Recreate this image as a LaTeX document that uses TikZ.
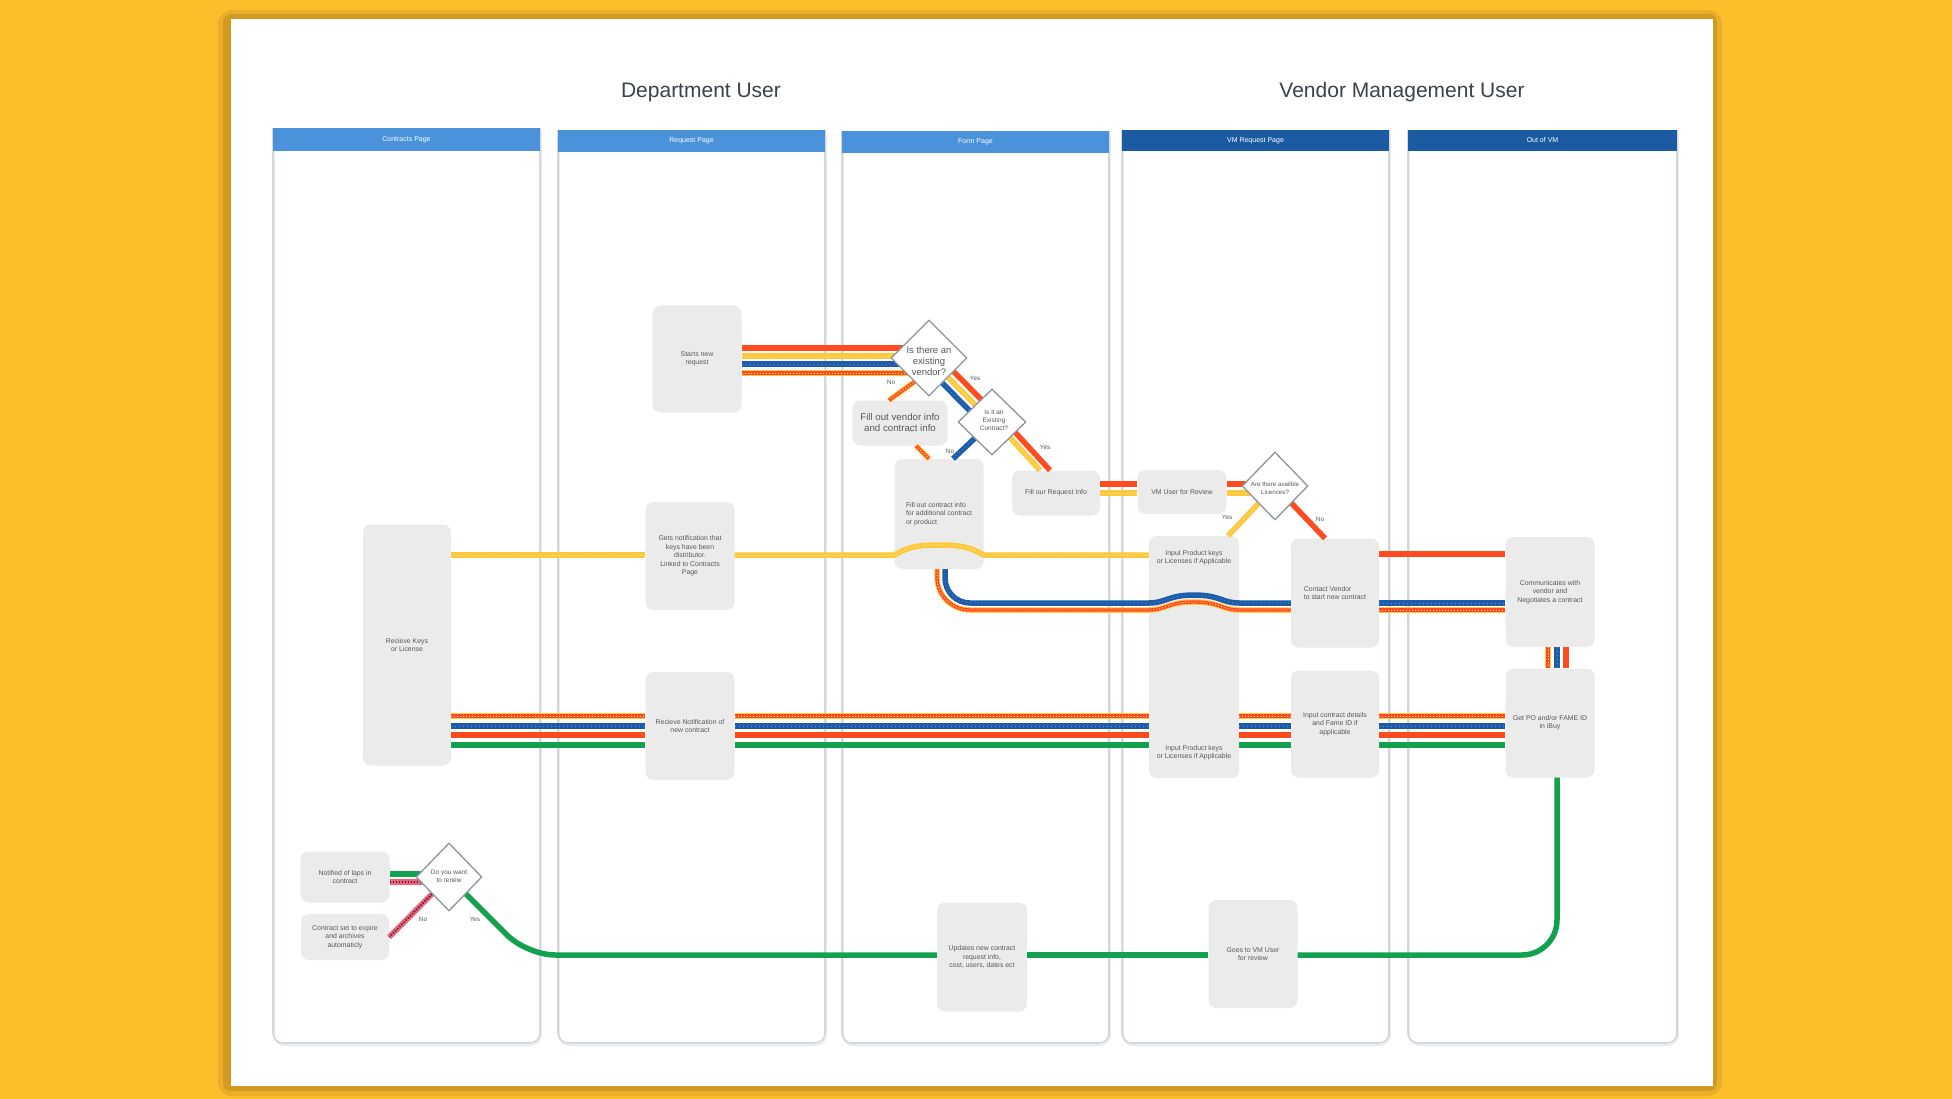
\documentclass[tikz,border=0pt]{standalone}
\usepackage{fontspec}
\setmainfont{Liberation Sans}
\usetikzlibrary{shapes.geometric,calc}
\pgfdeclarelayer{bg}
\pgfdeclarelayer{lines}
\pgfdeclarelayer{top}
\pgfsetlayers{bg,main,lines,top}
\definecolor{bgY}{HTML}{FDBE2C}
\definecolor{shdA}{HTML}{EAAE28}
\definecolor{shdB}{HTML}{C8951F}
\definecolor{laneB}{HTML}{D4D8DC}
\definecolor{hdL}{HTML}{4A92DA}
\definecolor{hdD}{HTML}{1B5BA2}
\definecolor{boxG}{HTML}{EBEBEB}
\definecolor{txtG}{HTML}{55595E}
\definecolor{titC}{HTML}{3A424B}
\definecolor{diaB}{HTML}{8C959D}
\definecolor{cRed}{HTML}{FF4B1F}
\definecolor{cYel}{HTML}{FDC93A}
\definecolor{cYelL}{HTML}{FFE9A8}
\definecolor{cBlu}{HTML}{1D5CAB}
\definecolor{cBluL}{HTML}{5E8FD2}
\definecolor{cGrn}{HTML}{14A14F}
\definecolor{cPnk}{HTML}{F25F7C}
\begin{document}
\begin{tikzpicture}[x=1pt,y=-1pt,
  box/.style={rectangle, rounded corners=8pt, fill=boxG, inner sep=2pt, align=center, text=txtG, font=\fontsize{6.9}{8.4}\selectfont},
  btxt/.style={align=center, text=txtG, inner sep=0pt, font=\fontsize{6.9}{8.4}\selectfont},
  sz/.style 2 args={minimum width=#1pt, minimum height=#2pt},
  dia/.style={diamond, draw=diaB, line width=1.3pt, fill=white, inner sep=0pt},
  dtxt/.style={align=center, text=txtG, inner sep=0pt, font=\fontsize{6.5}{8}\selectfont},
  lbl/.style={text=txtG, inner sep=0pt, font=\fontsize{6.3}{7}\selectfont},
  hdr/.style={text=white, inner sep=0pt, font=\fontsize{7}{8}\selectfont},
  title/.style={text=titC, inner sep=0pt, font=\fontsize{21}{24}\selectfont},
  lnbase/.style={line width=5.5pt, line cap=butt, line join=round},
  redL/.style={lnbase, draw=cRed},
  yelL/.style={lnbase, draw=cYel, postaction={draw=cYelL, line width=1pt, dash pattern=on 1pt off 2pt}},
  bluL/.style={lnbase, draw=cBlu, postaction={draw=cBluL, line width=0.7pt, dash pattern=on 1pt off 3pt}},
  grnL/.style={lnbase, draw=cGrn},
  oyL/.style={lnbase, draw=cYel, postaction={draw=cRed, line width=3.4pt}, postaction={draw=cYelL, line width=0.9pt, dash pattern=on 1pt off 2pt}},
  pnkL/.style={lnbase, draw=cPnk, postaction={draw=black!80, line width=1.6pt, dash pattern=on 1.5pt off 1.5pt}}
]
\useasboundingbox (0,0) rectangle (1952,1099);
\begin{pgfonlayer}{bg}
\fill[bgY] (0,0) rectangle (1952,1099);
\fill[shdA, rounded corners=14pt] (218,10) rectangle (1722,1096);
\fill[shdB!75!shdA, rounded corners=8pt] (223,14) rectangle (1717,1091);
\fill[white] (231,19) rectangle (1713,1086);
\foreach \xa/\xb/\yt/\yh/\hcol/\htxt [count=\i] in {273/540/128/151/hdL/Contracts Page, 558/825/130/152/hdL/Request Page, 842/1109/131/153/hdL/Form Page, 1122/1389/130/151/hdD/VM Request Page, 1408/1677/130/151/hdD/Out of VM}{
  \draw[laneB!55, line width=1.5pt, rounded corners=10pt] (\xa+1,\yt+4) -- (\xa+1,1045) -- (\xb+1,1045) -- (\xb+1,\yt+4);
  \draw[laneB, line width=1.6pt, rounded corners=10pt] (\xa,\yt) -- (\xa,1043) -- (\xb,1043) -- (\xb,\yt);
  \fill[\hcol] (\xa,\yt) rectangle (\xb,\yh);
  \node[hdr] (hd\i) at ({(\xa+\xb)/2},{(\yt+\yh)/2}) {\htxt};
}
\node[title] (tDept) at (701,92) {Department User};
\node[title] (tVM) at (1402,92) {Vendor Management User};
\end{pgfonlayer}

% boxes
\node[box, sz={89}{107}] (sn) at (697,359) {Starts new\\request};
\node[box, sz={95}{45}, font=\fontsize{9.7}{11}\selectfont] (fv) at (900,423) {Fill out vendor info\\and contract info};
\node[box, sz={89}{110}, align=left] (fc) at (939,514) {Fill out contract info\\for additional contract\\or product};
\node[box, sz={88}{45}] (fr) at (1056,493) {Fill our Request Info};
\node[box, sz={89}{44}] (vm) at (1182,492) {VM User for Review};
\node[box, sz={90}{242}] (ipk) at (1194,657) {};
\node[btxt] (ipkT) at (1194,558) {Input Product keys\\or Licenses if Applicable};
\node[btxt] (ipkB) at (1194,753) {Input Product keys\\or Licenses if Applicable};
\node[box, sz={88}{109}, align=left] (cv) at (1335,593) {Contact Vendor\\to start new contract};
\node[box, sz={88}{107}] (ic) at (1335,724) {Input contract details\\and Fame ID if\\applicable};
\node[box, sz={89}{110}] (cm) at (1550,592) {Communicates with\\vendor and\\Negotiates a contract};
\node[box, sz={89}{109}] (gp) at (1550,723) {Get PO and/or FAME ID\\in iBuy};
\node[box, sz={88}{241}] (rk) at (407,645) {Recieve Keys\\or License};
\node[box, sz={89}{108}] (gn) at (690,556) {Gets notification that\\keys have been\\distributor.\\Linked to Contracts\\Page};
\node[box, sz={89}{108}] (rn) at (690,726) {Recieve Notification of\\new contract};
\node[box, sz={90}{109}] (up) at (982,957) {Updates new contract\\request info,\\cost, users, dates ect};
\node[box, sz={89}{108}] (gv) at (1253,954) {Goes to VM User\\for review};
\node[box, sz={89}{51}] (nl) at (345,877) {Notified of laps in\\contract};
\node[box, sz={88}{46}] (cs) at (345,937) {Contract set to expire\\and archives\\automaticly};

\begin{pgfonlayer}{top}
\node[dia, minimum width=76pt, minimum height=76pt] (d1) at (929,358) {};
\node[dtxt, font=\fontsize{9.5}{11}\selectfont] (d1t) at (929,361) {Is there an\\existing\\vendor?};
\node[dia, minimum width=68pt, minimum height=66pt] (d2) at (992,422) {};
\node[dtxt] (d2t) at (994,420) {Is it an\\Existing\\Contract?};
\node[dia, minimum width=66pt, minimum height=68pt] (d3) at (1275,486) {};
\node[dtxt, font=\fontsize{6.2}{8}\selectfont] (d3t) at (1275,488) {Are there availble\\Licences?};
\node[dia, minimum width=66pt, minimum height=68pt] (d4) at (449,877) {};
\node[dtxt] (d4t) at (449,876) {Do you want\\to renew};
\node[lbl] (l1) at (891,382) {No};
\node[lbl] (l2) at (975,378) {Yes};
\node[lbl] (l3) at (950,451) {No};
\node[lbl] (l4) at (1045,447) {Yes};
\node[lbl] (l5) at (1227,517) {Yes};
\node[lbl] (l6) at (1320,519) {No};
\node[lbl] (l7) at (423,919) {No};
\node[lbl] (l8) at (475,919) {Yes};
\end{pgfonlayer}

\begin{pgfonlayer}{lines}
% start -> vendor question
\draw[redL] (sn.east |- 0,348) -- (d1.center |- 0,348);
\draw[yelL] (sn.east |- 0,356) -- (d1.center |- 0,356);
\draw[bluL] (sn.east |- 0,364) -- (d1.center |- 0,364);
\draw[oyL] (sn.east |- 0,373) -- (d1.center |- 0,373);
% no branch
\draw[oyL] ($(d1.center)+(-1,14)$) -- ($(fv.north)+(-11,0)$);
\draw[oyL] ($(fv.south)+(16,0)$) -- ($(fc.north)+(-10,0)$);
% yes branch
\draw[redL] ($(d1.center)+(5.7,-5.7)$) -- ($(d2.center)+(5.7,-5.7)$);
\draw[yelL] (d1.center) -- (d2.center);
\draw[bluL] ($(d1.center)+(-5.7,5.7)$) -- ($(d2.center)+(-5.7,5.7)$);
\draw[bluL] (d2.center) -- ($(fc.north)+(14,0)$);
\draw[redL] ($(d2.center)+(10,-4)$) -- ($(fr.north)+(-6,0)$);
\draw[yelL] ($(d2.center)+(0,-4)$) -- ($(fr.north)+(-16,0)$);
\draw[redL] (fr.east |- 0,484) -- (vm.west |- 0,484);
\draw[yelL] (fr.east |- 0,493) -- (vm.west |- 0,493);
\draw[redL] (vm.east |- 0,484) -- (d3.center |- 0,484);
\draw[yelL] (vm.east |- 0,493) -- (d3.center |- 0,493);
\draw[yelL] (d3.center) -- ($(ipk.north)+(34,0)$);
\draw[redL] (d3.center) -- ($(cv.north)+(-10,0)$);
% contact vendor -> communicates
\draw[redL] (cv.east |- 0,554) -- (cm.west |- 0,554);
\draw[bluL] (cv.east |- 0,603) -- (cm.west |- 0,603);
\draw[oyL] (cv.east |- 0,610) -- (cm.west |- 0,610);
% from contract info down and across
\draw[oyL] ($(fc.south)+(-2,0)$) -- ($(fc.south)+(-2,8)$)
  .. controls (937,595.2) and (951.8,610) .. (970,610) -- (ipk.west |- 0,610)
  .. controls (1166,610) and (1168,602) .. (ipk.center |- 0,602)
  .. controls (1220,602) and (1222,610) .. (ipk.east |- 0,610) -- (cv.west |- 0,610);
\draw[bluL] ($(fc.south)+(6,0)$) -- ($(fc.south)+(6,9)$)
  .. controls (945,591.8) and (956.2,603) .. (970,603) -- (ipk.west |- 0,603)
  .. controls (1166,603) and (1168,595) .. (ipk.center |- 0,595)
  .. controls (1220,595) and (1222,603) .. (ipk.east |- 0,603) -- (cv.west |- 0,603);
% yellow keys line
\draw[yelL] (rk.east |- 0,555) -- (gn.west |- 0,555);
\draw[yelL] (gn.east |- 0,555) -- (fc.west |- 0,555)
  .. controls (910,546) and (920,545) .. (fc.center |- 0,545)
  .. controls (958,545) and (968,546) .. (fc.east |- 0,555) -- (ipk.west |- 0,555);
% four lines
\foreach \a/\b in {rk/rn, rn/ipk, ipk/ic, ic/gp}{
  \draw[oyL] (\a.east |- 0,716) -- (\b.west |- 0,716);
  \draw[bluL] (\a.east |- 0,726) -- (\b.west |- 0,726);
  \draw[redL] (\a.east |- 0,735) -- (\b.west |- 0,735);
  \draw[grnL] (\a.east |- 0,745) -- (\b.west |- 0,745);
}
% communicates -> PO
\draw[oyL] (cm.south -| 1548,0) -- (gp.north -| 1548,0);
\draw[bluL] (cm.south -| 1557,0) -- (gp.north -| 1557,0);
\draw[redL] (cm.south -| 1566,0) -- (gp.north -| 1566,0);
% green renewal loop
\coordinate (gpo) at ($(gp.south)+(7,0)$);
\draw[grnL, rounded corners=35pt] (gpo) -- (gpo |- 0,955) -- (gv.east |- 0,955);
\draw[grnL] (gv.west |- 0,955) -- (up.east |- 0,955);
\draw[grnL, rounded corners=28pt] (up.west |- 0,955) -- ($(d4.center)+(78,78)$) -- (d4.center);
\draw[grnL] (nl.east |- 0,874) -- (d4.center |- 0,874);
\draw[pnkL] (nl.east |- 0,882) -- (d4.center |- 0,882);
\draw[pnkL] (d4.center) -- (cs.east);
\end{pgfonlayer}
\end{tikzpicture}
\end{document}
